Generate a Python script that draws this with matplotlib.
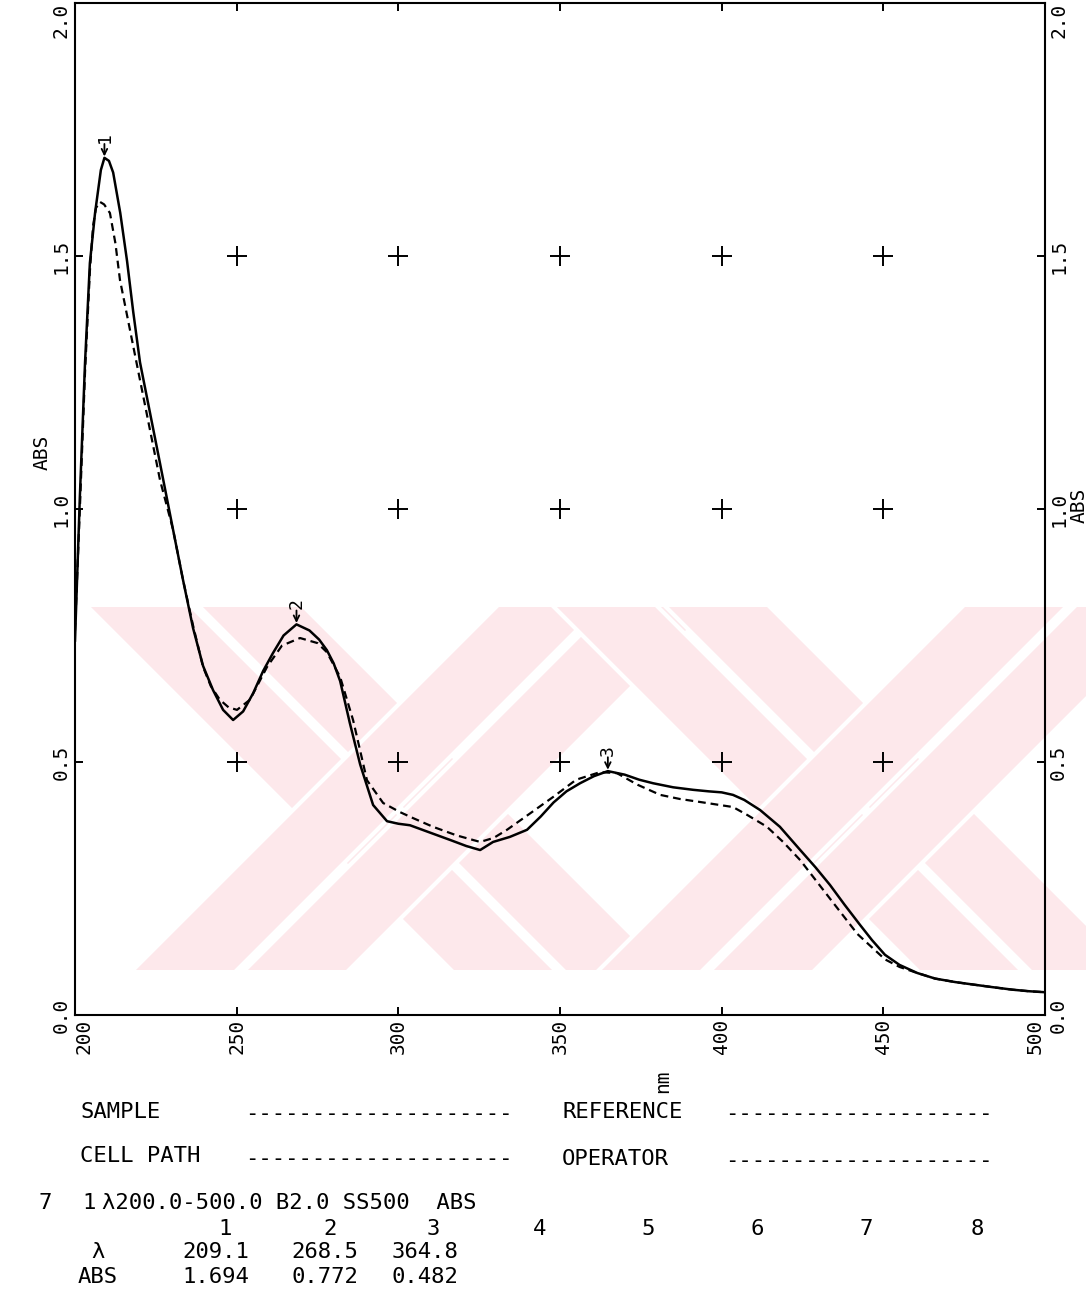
import numpy as np
import matplotlib.pyplot as plt
from matplotlib.patches import Polygon, Rectangle

plt.rcParams['font.family'] = ['DejaVu Sans Mono', 'DejaVu Sans']

# sample spectrum (solid) and reference spectrum (dashed), nm / ABS
wl_sample = [200.0, 201.5, 203.1, 204.6, 206.2, 208.0, 209.1, 210.5, 211.8, 214.0,
             216.1, 218.0, 220.1, 223.2, 226.3, 230.3, 233.4, 236.5, 239.6, 242.7,
             245.8, 248.9, 252.0, 255.1, 258.2, 261.2, 264.5, 268.5, 272.5, 275.5,
             277.9, 280.0, 282.0, 285.0, 288.2, 292.2, 296.5, 300.0, 303.6, 310.0,
             316.0, 321.0, 325.3, 329.3, 334.5, 339.8, 344.0, 348.0, 352.0, 356.2,
             360.5, 364.8, 370.0, 374.5, 378.8, 385.0, 391.2, 396.0, 400.0, 403.5,
             407.0, 411.9, 418.0, 424.3, 429.0, 433.5, 438.0, 442.8, 446.5, 450.5,
             455.0, 460.5, 466.0, 472.3, 478.0, 483.8, 490.0, 495.0, 500.0]
abs_sample = [0.740, 1.024, 1.289, 1.486, 1.585, 1.670, 1.694, 1.688, 1.665, 1.585,
              1.490, 1.390, 1.290, 1.190, 1.090, 0.960, 0.860, 0.765, 0.690, 0.642,
              0.603, 0.583, 0.600, 0.636, 0.680, 0.715, 0.750, 0.772, 0.760, 0.742,
              0.721, 0.695, 0.660, 0.577, 0.495, 0.415, 0.383, 0.378, 0.375, 0.360,
              0.346, 0.334, 0.326, 0.342, 0.352, 0.366, 0.392, 0.420, 0.442, 0.458,
              0.472, 0.482, 0.475, 0.465, 0.458, 0.450, 0.445, 0.442, 0.440, 0.435,
              0.425, 0.405, 0.372, 0.326, 0.292, 0.257, 0.218, 0.178, 0.148, 0.119,
              0.099, 0.083, 0.072, 0.065, 0.060, 0.055, 0.050, 0.047, 0.045]

wl_ref = [200.0, 201.5, 203.1, 204.6, 205.6, 206.5, 207.7, 209.0, 210.8, 212.5,
          213.9, 217.0, 220.1, 223.2, 226.3, 230.3, 233.4, 236.5, 239.6, 242.0,
          244.8, 247.5, 250.1, 254.1, 259.4, 264.0, 269.6, 275.0, 277.9, 282.0,
          286.0, 290.3, 295.3, 300.5, 304.6, 310.7, 318.0, 325.3, 329.5, 333.6,
          340.0, 347.9, 355.0, 362.4, 367.6, 374.0, 381.0, 387.0, 393.3, 403.5,
          408.0, 414.0, 419.0, 424.3, 433.5, 442.0, 450.5, 455.0, 460.5, 466.0,
          472.3, 478.0, 483.8, 490.0, 495.0, 500.0]
abs_ref = [0.760, 1.000, 1.270, 1.470, 1.560, 1.595, 1.607, 1.602, 1.585, 1.525,
           1.453, 1.354, 1.255, 1.156, 1.057, 0.960, 0.860, 0.770, 0.688, 0.650,
           0.623, 0.608, 0.603, 0.623, 0.688, 0.730, 0.745, 0.735, 0.717, 0.668,
           0.583, 0.464, 0.419, 0.401, 0.389, 0.372, 0.355, 0.342, 0.350, 0.366,
           0.395, 0.431, 0.465, 0.480, 0.478, 0.455, 0.435, 0.427, 0.421, 0.411,
           0.395, 0.372, 0.342, 0.306, 0.230, 0.160, 0.110, 0.095, 0.083, 0.072,
           0.065, 0.060, 0.055, 0.050, 0.047, 0.045]

# peak pick table
peak_no = [1, 2, 3]
peak_wl = [209.1, 268.5, 364.8]
peak_abs = [1.694, 0.772, 0.482]

x_ticks = [200, 250, 300, 350, 400, 450, 500]
y_ticks = [0.0, 0.5, 1.0, 1.5, 2.0]
grid_x = [250, 300, 350, 400, 450]
grid_y = [0.5, 1.0, 1.5]

W, H = 1090, 1298


def fx(px):
    return px / W


def fy(py):
    return 1 - py / H


fig = plt.figure(figsize=(W / 100, H / 100), dpi=100)

# faint pink stamp behind the plot: two crosses, each arm split in two stripes
pink = '#fde8eb'
band = Rectangle((fx(82), fy(970)), fx(1086) - fx(82), fy(607) - fy(970),
                 transform=fig.transFigure, facecolor='none', edgecolor='none')
fig.patches.append(band)
for cx in [400, 866]:
    for sgn in [1, -1]:
        for off in [-56, 56]:
            pts = []
            for yy, side in [(560, -1), (560, 1), (1020, 1), (1020, -1)]:
                xc = cx + sgn * (yy - 811) + off
                pts.append((fx(xc + side * 52), fy(yy)))
            poly = Polygon(pts, closed=True, transform=fig.transFigure,
                           facecolor=pink, edgecolor='white', lw=3, zorder=-5)
            poly.set_clip_path(band)
            fig.patches.append(poly)

ax = fig.add_axes([fx(75), fy(1015), fx(1045) - fx(75), fy(3) - fy(1015)])
ax.patch.set_alpha(0)

ax.plot(wl_sample, abs_sample, color='black', lw=1.8, solid_joinstyle='round')
ax.plot(wl_ref, abs_ref, color='black', lw=1.6, ls=(0, (3.5, 2.2)))

gx, gy = np.meshgrid(grid_x, grid_y)
ax.plot(gx.ravel(), gy.ravel(), ls='none', marker='+', ms=14, mew=1.4, color='black')

for n, px_, py_ in zip(peak_no, peak_wl, peak_abs):
    ax.annotate('', xy=(px_, py_), xytext=(0, 10), textcoords='offset points',
                arrowprops=dict(arrowstyle='->', lw=1.3, color='black',
                                shrinkA=0, shrinkB=1, mutation_scale=10))
    ax.annotate(str(n), xy=(px_, py_), xytext=(0, 11), textcoords='offset points',
                rotation=90, ha='center', va='bottom', fontsize=13)

ax.set_xlim(200, 500)
ax.set_ylim(0, 2.0)
ax.set_xticks(x_ticks, labels=[str(v) for v in x_ticks])
ax.set_yticks(y_ticks, labels=[f'{v:.1f}' for v in y_ticks])
ax.tick_params(direction='in', length=6, width=1.4, top=True, right=True,
               labelright=True, labelsize=14, pad=3, labelrotation=90)
for t in ax.yaxis.get_major_ticks():
    t.label1.set_va('center')
    t.label2.set_va('center')
ax.yaxis.get_major_ticks()[-1].label1.set_va('top')
ax.yaxis.get_major_ticks()[-1].label2.set_va('top')
ax.xaxis.get_major_ticks()[0].label1.set_ha('left')
ax.xaxis.get_major_ticks()[-1].label1.set_ha('right')
for s in ax.spines.values():
    s.set_linewidth(1.5)

fig.text(fx(42), fy(452), 'ABS', rotation=90, ha='center', va='center', fontsize=14)
fig.text(fx(1079), fy(505), 'ABS', rotation=90, ha='center', va='center', fontsize=14)
fig.text(fx(663), fy(1081), 'nm', rotation=90, ha='center', va='center', fontsize=14)

# printed header block under the plot
fs = 16
dashes = '-' * 20
fig.text(fx(80), fy(1112), 'SAMPLE', va='center', fontsize=fs)
fig.text(fx(245), fy(1114), dashes, va='center', fontsize=fs)
fig.text(fx(562), fy(1112), 'REFERENCE', va='center', fontsize=fs)
fig.text(fx(725), fy(1114), dashes, va='center', fontsize=fs)
fig.text(fx(80), fy(1156), 'CELL PATH', va='center', fontsize=fs)
fig.text(fx(245), fy(1159), dashes, va='center', fontsize=fs)
fig.text(fx(562), fy(1159), 'OPERATOR', va='center', fontsize=fs)
fig.text(fx(725), fy(1161), dashes, va='center', fontsize=fs)

fig.text(fx(38), fy(1203), '7', va='center', fontsize=fs)
fig.text(fx(82), fy(1203), '1', va='center', fontsize=fs)
fig.text(fx(102), fy(1203), 'λ200.0-500.0 B2.0 SS500  ABS', va='center', fontsize=fs)

col_x = [225, 330, 433, 540, 648, 757, 866, 977]
for i, cxp in enumerate(col_x):
    fig.text(fx(cxp), fy(1229), str(i + 1), ha='center', va='center', fontsize=fs)

val_x = [216, 325, 425]
fig.text(fx(98), fy(1252), 'λ', ha='center', va='center', fontsize=fs)
fig.text(fx(98), fy(1277), 'ABS', ha='center', va='center', fontsize=fs)
for vx, w, a in zip(val_x, peak_wl, peak_abs):
    fig.text(fx(vx), fy(1252), f'{w:.1f}', ha='center', va='center', fontsize=fs)
    fig.text(fx(vx), fy(1277), f'{a:.3f}', ha='center', va='center', fontsize=fs)

fig.savefig('out.png', dpi=100)
